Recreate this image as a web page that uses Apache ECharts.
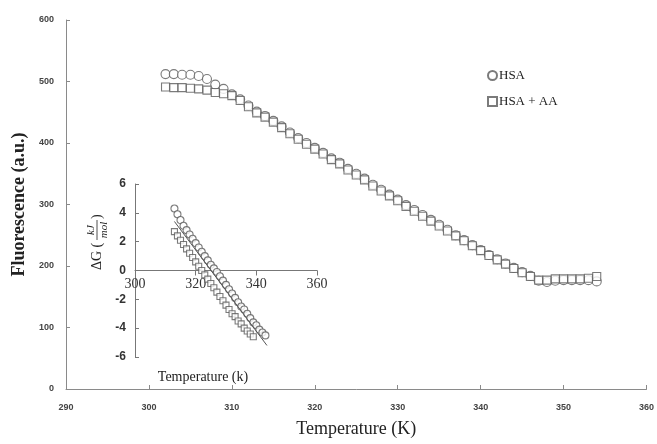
<!DOCTYPE html>
<html>
<head>
<meta charset="utf-8">
<script src="https://cdn.jsdelivr.net/npm/echarts@6/dist/echarts.min.js"></script>
<style>html,body{margin:0;padding:0;background:#fff}#c{width:657px;height:444px}</style>
</head>
<body>
<div id="c"></div>
<script>
// Main chart data
var temps = [302,303,304,305,306,307,308,309,310,311,312,313,314,315,316,317,318,319,320,321,322,323,324,325,326,327,328,329,330,331,332,333,334,335,336,337,338,339,340,341,342,343,344,345,346,347,348,349,350,351,352,353,354];
var hsa = [512,512,511,511,509,504,495,488,479,471,461,451,444,436,427,417,408,400,392,384,375,368,358,350,342,332,324,316,308,299,291,283,275,267,259,250,242,234,226,218,211,204,197,190,184,176,174,176,177,177,177,177,175];
var hsaAA = [491,490,490,489,488,486,482,480,477,469,459,449,442,434,425,415,406,398,390,382,373,366,356,348,340,330,322,314,306,297,289,281,273,265,257,249,241,233,225,217,210,203,196,189,183,177,177,179,179,179,179,180,183];
// Inset data (Delta G vs temperature)
var insetTempA = [313,314,315,316,317,318,319,320,321,322,323,324,325,326,327,328,329,330,331,332,333,334,335,336,337,338,339,340,341,342,343];
var insetHSA = [4.3,3.9,3.5,3.1,2.8,2.5,2.2,1.9,1.6,1.3,1.0,0.7,0.4,0.15,-0.1,-0.4,-0.7,-1.0,-1.3,-1.6,-1.9,-2.2,-2.5,-2.7,-3.0,-3.3,-3.6,-3.8,-4.1,-4.3,-4.5];
var insetTempB = [313,314,315,316,317,318,319,320,321,322,323,324,325,326,327,328,329,330,331,332,333,334,335,336,337,338,339];
var insetHSAAA = [2.7,2.4,2.1,1.8,1.5,1.2,0.9,0.6,0.3,0.0,-0.3,-0.6,-0.9,-1.2,-1.5,-1.8,-2.1,-2.4,-2.7,-3.0,-3.2,-3.5,-3.7,-4.0,-4.2,-4.4,-4.6];
var fitT = [313,343.5];
var fitG = [3.4,-5.2];
// Axis ticks
var mainX = {min:290,max:360,step:10};
var mainY = {min:0,max:600,step:100};
var insetX = {min:300,max:360,step:20};
var insetY = {min:-6,max:6,step:2};

function zip(a,b){return a.map(function(v,i){return [v,b[i]];});}

var chart = echarts.init(document.getElementById('c'));
var axisCol = '#8a8a8a';
var mk = {color:'#fff',borderColor:'#5a5a5a',borderWidth:1.1};
var insetTop = 184, insetH = 173;
// place inset x axis on the y=0 line
var zeroOffset = -insetH * (0 - insetY.min) / (insetY.max - insetY.min);
chart.setOption({
  animation:false,
  backgroundColor:'#fff',
  grid:[
    {left:66,right:10,top:20,bottom:55},
    {left:135,top:insetTop,width:182,height:insetH}
  ],
  legend:{
    data:['HSA','HSA + AA'],
    orient:'vertical',left:482,top:64,itemWidth:9,itemHeight:9,itemGap:13,
    textStyle:{fontFamily:'Liberation Serif',fontSize:13,color:'#222',padding:[0,0,0,-3]}
  },
  xAxis:[
    {gridIndex:0,type:'value',min:mainX.min,max:mainX.max,interval:mainX.step,
     name:'Temperature (K)',nameLocation:'middle',nameGap:31,
     nameTextStyle:{fontFamily:'Liberation Serif',fontSize:18,color:'#222'},
     axisLine:{lineStyle:{color:axisCol}},axisTick:{inside:true,length:4,lineStyle:{color:axisCol}},
     axisLabel:{fontFamily:'Liberation Sans',fontSize:9,fontWeight:'bold',color:'#444',margin:14},
     splitLine:{show:false}},
    {gridIndex:1,type:'value',min:insetX.min,max:insetX.max,interval:insetX.step,
     position:'bottom',offset:zeroOffset,
     axisLine:{onZero:false,lineStyle:{color:'#777'}},axisTick:{length:5,lineStyle:{color:'#777'}},
     axisLabel:{fontFamily:'Liberation Serif',fontSize:14,color:'#333',margin:7},
     splitLine:{show:false}}
  ],
  yAxis:[
    {gridIndex:0,type:'value',min:mainY.min,max:mainY.max,interval:mainY.step,
     name:'Fluorescence (a.u.)',nameLocation:'middle',nameGap:38,
     nameTextStyle:{fontFamily:'Liberation Serif',fontSize:18,fontWeight:'bold',color:'#222'},
     axisLine:{lineStyle:{color:axisCol}},axisTick:{inside:true,length:4,lineStyle:{color:axisCol}},
     axisLabel:{fontFamily:'Liberation Sans',fontSize:9,fontWeight:'bold',color:'#444',margin:12},
     splitLine:{show:false}},
    {gridIndex:1,type:'value',min:insetY.min,max:insetY.max,interval:insetY.step,
     axisLine:{lineStyle:{color:'#777'}},axisTick:{inside:true,length:4,lineStyle:{color:'#777'}},
     axisLabel:{fontFamily:'Liberation Sans',fontSize:12,fontWeight:'bold',color:'#333',margin:9},
     splitLine:{show:false}}
  ],
  series:[
    {name:'HSA',type:'scatter',xAxisIndex:0,yAxisIndex:0,symbol:'circle',symbolSize:9,itemStyle:mk,data:zip(temps,hsa)},
    {name:'HSA + AA',type:'scatter',xAxisIndex:0,yAxisIndex:0,symbol:'rect',symbolSize:8,itemStyle:mk,data:zip(temps,hsaAA)},
    {name:'inset HSA',type:'scatter',xAxisIndex:1,yAxisIndex:1,symbol:'circle',symbolSize:7,itemStyle:mk,data:zip(insetTempA,insetHSA)},
    {name:'inset HSA + AA',type:'scatter',xAxisIndex:1,yAxisIndex:1,symbol:'rect',symbolSize:6,itemStyle:mk,data:zip(insetTempB,insetHSAAA)},
    {name:'fit',type:'line',xAxisIndex:1,yAxisIndex:1,showSymbol:false,symbol:'none',lineStyle:{color:'#555',width:1},data:zip(fitT,fitG)}
  ],
  graphic:[
    {type:'text',x:0,y:0,style:{text:'Temperature (k)',font:'14px "Liberation Serif"',fill:'#222',x:203,y:377,textAlign:'center',textVerticalAlign:'middle'}},
    {type:'group',x:97,y:234,rotation:Math.PI/2,children:[
      {type:'text',style:{text:'ΔG (',font:'14px "Liberation Serif"',fill:'#222',x:-36,y:0,textAlign:'left',textVerticalAlign:'middle'}},
      {type:'text',style:{text:'kJ',font:'italic 11px "Liberation Serif"',fill:'#222',x:4,y:-6,textAlign:'center',textVerticalAlign:'middle'}},
      {type:'line',shape:{x1:-6,y1:0,x2:14,y2:0},style:{stroke:'#222',lineWidth:0.8}},
      {type:'text',style:{text:'mol',font:'italic 11px "Liberation Serif"',fill:'#222',x:4,y:7,textAlign:'center',textVerticalAlign:'middle'}},
      {type:'text',style:{text:')',font:'14px "Liberation Serif"',fill:'#222',x:15,y:0,textAlign:'left',textVerticalAlign:'middle'}}
    ]}
  ]
});
</script>
</body>
</html>
